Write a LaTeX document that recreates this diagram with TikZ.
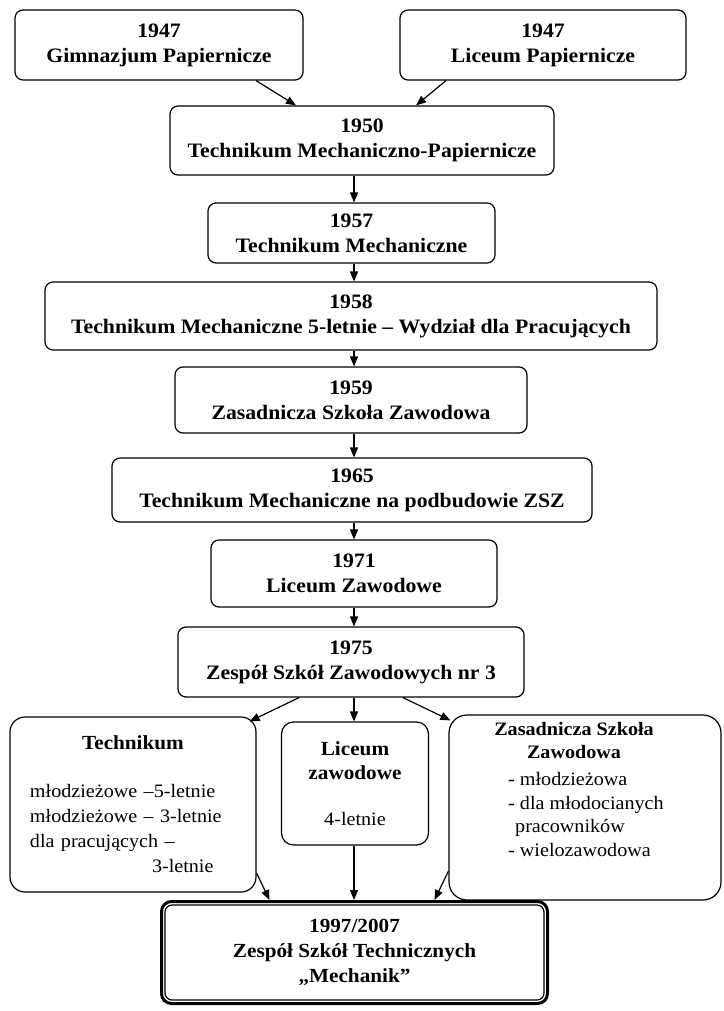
\documentclass[tikz,border=0pt]{standalone}
\usepackage{fontspec}
\setmainfont{Liberation Serif}[FakeStretch=1.06]
\usetikzlibrary{arrows.meta,calc}
\begin{document}
\begin{tikzpicture}[x=1pt,y=-1pt,
  box/.style={draw, line width=1.2pt, rounded corners=8pt, align=center, inner sep=2pt,
    font=\fontsize{20.5}{25}\selectfont\bfseries},
  conn/.style={line width=1.2pt, -{Triangle[length=10pt,width=8pt]}},
  txt/.style={inner sep=0pt},
]
\fill[white] (0,0) rectangle (723,1011);
\useasboundingbox (0,0) rectangle (723,1011);
\coordinate (spine) at (354,0);

\node[box, minimum width=288pt, minimum height=70pt] (gim) at (159,45) {1947\\Gimnazjum Papiernicze};
\node[box, minimum width=286pt, minimum height=70pt] (licp) at (543,45) {1947\\Liceum Papiernicze};
\node[box, minimum width=384pt, minimum height=69pt] (b1950) at (362,140.5) {1950\\Technikum Mechaniczno-Papiernicze};
\node[box, minimum width=287pt, minimum height=60pt] (b1957) at (351.5,233) {1957\\Technikum Mechaniczne};
\node[box, minimum width=612pt, minimum height=68pt] (b1958) at (351,316) {1958\\Technikum Mechaniczne 5-letnie – Wydział dla Pracujących};
\node[box, minimum width=352pt, minimum height=66pt] (b1959) at (351,400) {1959\\Zasadnicza Szkoła Zawodowa};
\node[box, minimum width=480pt, minimum height=64pt] (b1965) at (352,490) {1965\\Technikum Mechaniczne na podbudowie ZSZ};
\node[box, minimum width=286pt, minimum height=67pt] (b1971) at (354,573.5) {1971\\Liceum Zawodowe};
\node[box, minimum width=346pt, minimum height=70pt] (b1975) at (351,662) {1975\\Zespół Szkół Zawodowych nr 3};

\node[box, rounded corners=15pt, minimum width=246pt, minimum height=175pt, text width=206pt, align=left,
  font=\fontsize{19}{25}\selectfont] (tech) at (133,804.5)
  {{\centering\bfseries\fontsize{20}{25}\selectfont Technikum\par}\vspace{23pt}młodzieżowe –5-letnie\\młodzieżowe – 3-letnie\\dla pracujących –\\\hspace*{122pt}3-letnie};

\node[box, rounded corners=12pt, minimum width=147pt, minimum height=123pt, font=\fontsize{20}{24}\selectfont\bfseries]
  (lic) at (355,783.5) {Liceum\\zawodowe\\[22pt]{\mdseries\fontsize{19}{24}\selectfont 4-letnie}};

\node[box, rounded corners=18pt, minimum width=272pt, minimum height=185pt] (zas) at (585,807.5) {};
\node[txt, font=\fontsize{19}{23}\selectfont\bfseries, align=center] (zasH) at (574,740) {Zasadnicza Szkoła\\Zawodowa};
\node[txt, font=\fontsize{19}{23.7}\selectfont, align=left, anchor=north west] (zasL) at (508,772)
  {- młodzieżowa\\- dla młodocianych\\\hspace*{7pt}pracowników\\- wielozawodowa};

\node[draw, line width=3pt, rounded corners=10pt, minimum width=386pt, minimum height=102pt, align=center,
  font=\fontsize{20}{25}\selectfont\bfseries] (final) at (354.5,952.5)
  {1997/2007\\Zespół Szkół Technicznych\\„Mechanik”};
\draw[line width=1.2pt, rounded corners=7pt] ([shift={(5,5)}]final.north west) rectangle ([shift={(-5,-5)}]final.south east);

\draw[conn] ([xshift=97pt]gim.south) -- ([xshift=-66pt]b1950.north);
\draw[conn] ([xshift=-97pt]licp.south) -- ([xshift=54pt]b1950.north);
\draw[conn] (b1950.south -| spine) -- (b1957.north -| spine);
\draw[conn] (b1957.south -| spine) -- (b1958.north -| spine);
\draw[conn] (b1958.south -| spine) -- (b1959.north -| spine);
\draw[conn] (b1959.south -| spine) -- (b1965.north -| spine);
\draw[conn] (b1965.south -| spine) -- (b1971.north -| spine);
\draw[conn] (b1971.south -| spine) -- (b1975.north -| spine);
\draw[conn] ([xshift=-52pt]b1975.south) -- ([shift={(-7,5)}]tech.north east);
\draw[conn] (b1975.south -| spine) -- (lic.north -| spine);
\draw[conn] ([xshift=52pt]b1975.south) -- ([shift={(2,6)}]zas.north west);
\draw[conn] (tech.-29) -- ([xshift=109.5pt]final.north west);
\draw[conn] (lic.south -| spine) -- (final.north -| spine);
\draw[conn] (zas.205) -- ([xshift=-114.5pt]final.north east);
\end{tikzpicture}
\end{document}
